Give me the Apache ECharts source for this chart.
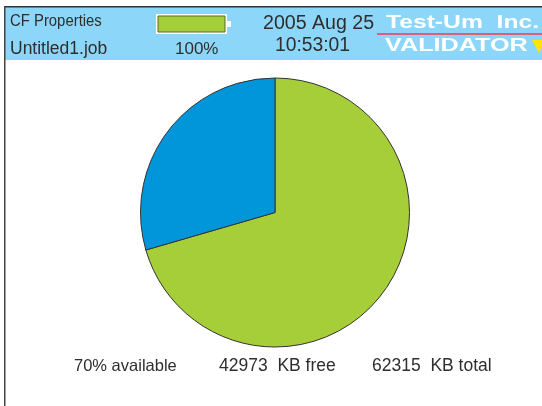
<!DOCTYPE html>
<html>
<head>
<meta charset="utf-8">
<style>
  html, body { margin: 0; padding: 0; background: #fff; }
  #chart { width: 542px; height: 406px; }
</style>
</head>
<body>
<div id="chart"></div>
<script src="https://cdn.jsdelivr.net/npm/echarts@6/dist/echarts.min.js"></script>
<script>
// pie shares in percent, as drawn in the picture
const sliceNames = ['available', 'used']
const sliceValues = [70.5, 29.5]
const sliceColors = ['#A6CE39', '#0096D9']

// header and footer texts
const jobTitle = 'CF Properties'
const jobFile = 'Untitled1.job'
const batteryLabel = '100%'
const dateLabel = '2005 Aug 25'
const timeLabel = '10:53:01'
const brandTop = 'Test-Um  Inc.'
const brandBottom = 'VALIDATOR'
const footerLabels = ['70% available', '42973  KB free', '62315  KB total']

const font = 'Liberation Sans'
const ink = '#2e2e2e'

// x is the left edge of the text, y its vertical middle
function label(x, y, text, fontSize, scaleX, extra) {
  return {
    type: 'text',
    x,
    y,
    scaleX: scaleX || 1,
    z: 10,
    style: Object.assign({ text, fontSize, fontFamily: font, fill: ink, verticalAlign: 'middle' }, extra || {})
  }
}

const chart = echarts.init(document.getElementById('chart'), null, { renderer: 'canvas' })

chart.setOption({
  animation: false,
  backgroundColor: '#fff',
  series: [
    {
      type: 'pie',
      center: [275, 212.5],
      radius: [0, 134.5],
      startAngle: 90,
      clockwise: true,
      label: { show: false },
      labelLine: { show: false },
      itemStyle: { borderColor: '#333', borderWidth: 1 },
      data: sliceNames.map((name, i) => ({
        name,
        value: sliceValues[i],
        itemStyle: { color: sliceColors[i] }
      }))
    }
  ],
  graphic: [
    // header band and frame
    { type: 'rect', x: 5, y: 7, shape: { width: 537, height: 53 }, style: { fill: '#8CD6F9' } },
    { type: 'rect', x: 4, y: 6, shape: { width: 538, height: 1.5 }, style: { fill: '#333' } },
    { type: 'rect', x: 4, y: 6, shape: { width: 1.5, height: 400 }, style: { fill: '#444' } },

    // battery gauge
    { type: 'rect', x: 156, y: 14, shape: { width: 71, height: 20 }, style: { fill: '#fff' } },
    { type: 'rect', x: 227, y: 21, shape: { width: 4, height: 6 }, style: { fill: '#fff' } },
    { type: 'rect', x: 158, y: 16, shape: { width: 67, height: 16 }, style: { fill: '#A6CE39', stroke: '#5a6b20', lineWidth: 1 } },

    label(10, 21.5, jobTitle, 16, 0.93),
    label(10, 49, jobFile, 17.5),
    label(175, 49, batteryLabel, 17),
    label(263, 24, dateLabel, 19.6),
    label(275, 46, timeLabel, 19.3),

    // brand block
    label(386, 23, brandTop, 18, 1.37, { fill: '#fff', fontWeight: 'bold' }),
    { type: 'rect', x: 377, y: 33, shape: { width: 165, height: 2 }, style: { fill: '#D8607A' } },
    label(385, 46, brandBottom, 18, 1.4, { fill: '#fff', fontWeight: 'bold' }),
    { type: 'polygon', z: 11, shape: { points: [[532, 40], [545, 40], [539, 53]] }, style: { fill: '#FFE600' } },

    // footer
    label(74, 366, footerLabels[0], 16.5),
    label(219, 366, footerLabels[1], 17.5),
    label(372, 366, footerLabels[2], 17.5)
  ]
})
</script>
</body>
</html>
